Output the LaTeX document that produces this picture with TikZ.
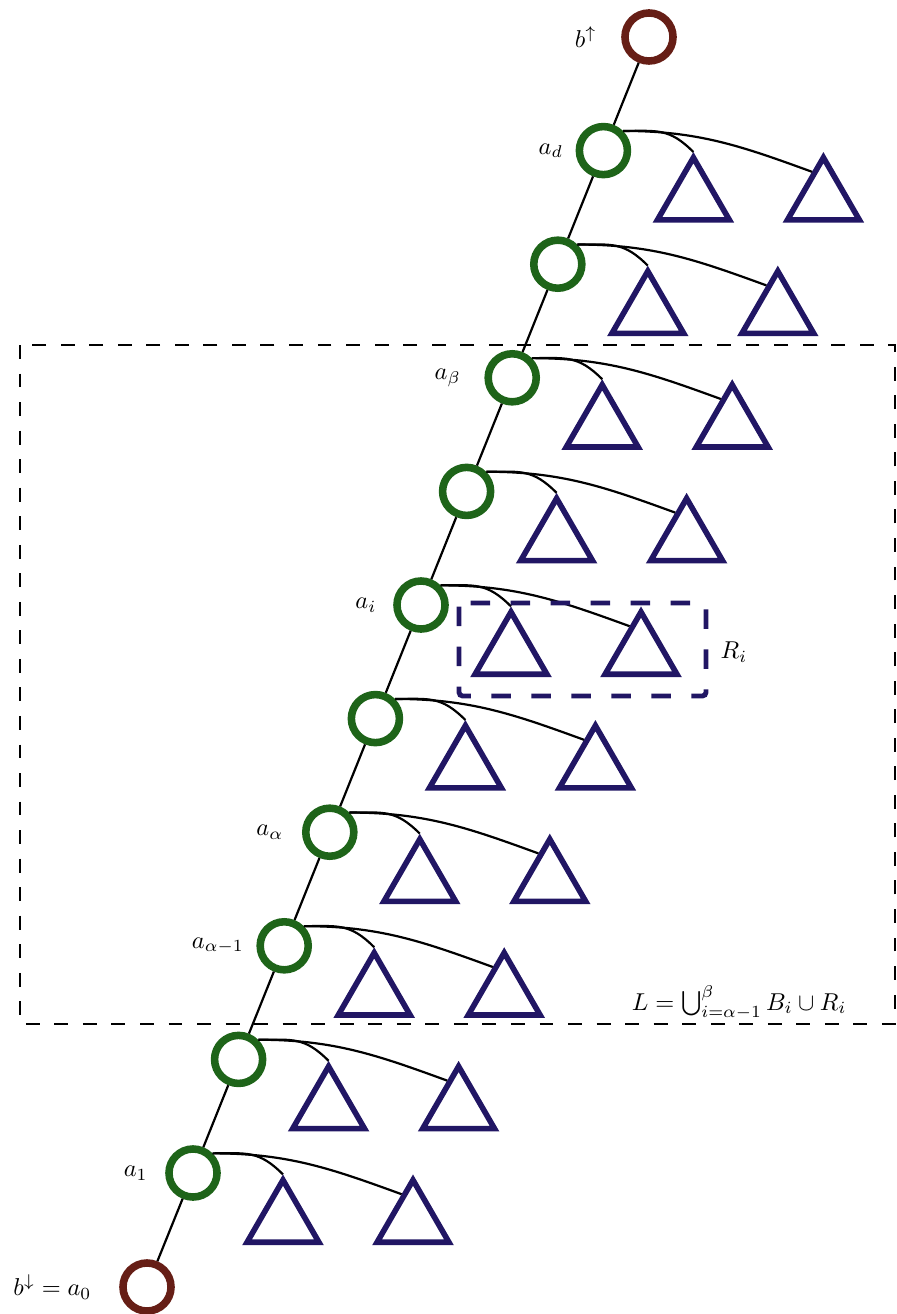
\documentclass[tikz,border=0pt]{standalone}
\usepackage{amsmath,amssymb}
\usetikzlibrary{positioning,calc,shapes.geometric}
\definecolor{verde}{HTML}{1E6419}
\definecolor{marron}{HTML}{661E16}
\definecolor{azul}{HTML}{211664}

\begin{document}
\begin{tikzpicture}[x=0.41pt,y=0.41pt,
    nodo/.style={circle,draw=verde,line width=3.1pt,minimum size=19.7pt,inner sep=0pt},
    extremo/.style={nodo,draw=marron},
    arbol/.style={regular polygon,regular polygon sides=3,draw=azul,line width=2.3pt,minimum size=34pt,inner sep=0pt},
    rama/.style={line width=0.9pt},
    etiq/.style={inner sep=0pt},
    marco/.style={line width=0.8pt,dash pattern=on 5.7pt off 6pt},
    recuadro/.style={draw=azul,line width=2pt,dash pattern=on 8pt off 8.4pt,rounded corners=1.5pt}]
  \useasboundingbox (0,0) rectangle (896,-1314);
  \node[extremo] (v0) at (649,-37) {};
  \node[extremo] (v11) at (147,-1287) {};
  \foreach \k in {1,...,10}{
    \node[nodo] (v\k) at ({649-45.6*\k},{-37-113.6*\k}) {};
    \node[arbol] (ta\k) at ([shift={(90,-48.5)}]v\k.center) {};
    \node[arbol] (tb\k) at ([shift={(220,-48.5)}]v\k.center) {};
    \draw[rama] (v\k.45) to[out=0,in=135,looseness=1.2] (ta\k.corner 1);
    \draw[rama] (v\k.45) to[out=0,in=160] ($(tb\k.corner 1)!0.28!(tb\k.corner 2)$);
  }
  \foreach \k [count=\j from 1] in {0,...,10}
    \draw[rama] (v\k) -- (v\j);
  \node[etiq,left=9.9pt of v0] (l0) {$b^{\uparrow}$};
  \node[etiq,left=5pt of v1] (l1) {$a_d$};
  \node[etiq,left=9.5pt of v3] (l3) {$a_\beta$};
  \node[etiq,left=6.7pt of v5] (l5) {$a_i$};
  \node[etiq,left=7.5pt of v7] (l7) {$a_\alpha$};
  \node[etiq,left=5pt of v8] (l8) {$a_{\alpha-1}$};
  \node[etiq,left=7pt of v10] (l10) {$a_1$};
  \node[etiq,left=11.2pt of v11] (l11) {$b^{\downarrow}=a_0$};
  % the two subtrees hanging from a_i
  \coordinate (ri-a) at ([shift={(38,2)}]v5.center);
  \coordinate (ri-b) at ([shift={(285,-91)}]v5.center);
  \draw[recuadro] (ri-a) rectangle (ri-b);
  \node[etiq,anchor=west] (ri) at ([shift={(14,44)}]ri-b) {$R_i$};
  \coordinate (Lsup) at (20,-345);
  \coordinate (Linf) at (895,-1024);
  \draw[marco] (Lsup) rectangle (Linf);
  \node[etiq,anchor=base east] (union) at ([shift={(-48,14)}]Linf) {$L=\bigcup_{i=\alpha-1}^{\beta} B_i\cup R_i$};
\end{tikzpicture}
\end{document}
